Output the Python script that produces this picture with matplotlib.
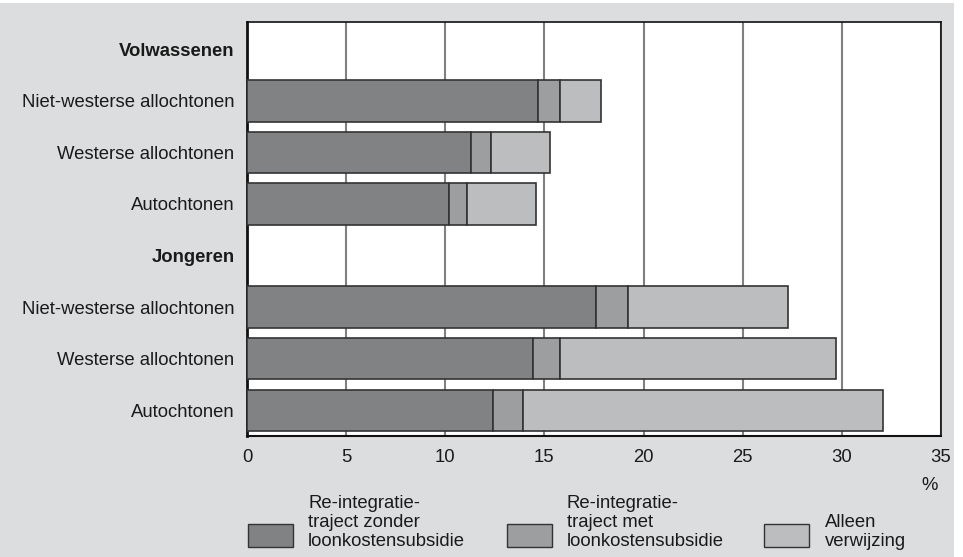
import matplotlib.pyplot as plt
from matplotlib.patches import Rectangle

plt.rcParams['font.family'] = ['Liberation Sans', 'DejaVu Sans']

# rows: group headers and categories (top to bottom)
row_labels = ["Volwassenen", "Niet-westerse allochtonen", "Westerse allochtonen", "Autochtonen",
              "Jongeren", "Niet-westerse allochtonen", "Westerse allochtonen", "Autochtonen"]
header_rows = [0, 4]
bar_rows = [1, 2, 3, 5, 6, 7]

zonder = [14.7, 11.3, 10.2, 17.6, 14.4, 12.4]
met = [1.1, 1.0, 0.9, 1.6, 1.4, 1.5]
verwijzing = [2.05, 3.0, 3.45, 8.1, 13.9, 18.2]

series_labels = ["Re-integratie-\ntraject zonder\nloonkostensubsidie",
                 "Re-integratie-\ntraject met\nloonkostensubsidie",
                 "Alleen\nverwijzing"]
colors = ["#818284", "#9d9ea0", "#bcbdbf"]
bg = "#dcdddf"
fs = 13.3

fig = plt.figure(figsize=(9.63, 5.57), dpi=100, facecolor=bg)
# white margins at top and right of the scanned panel
fig.patches.append(Rectangle((0, 1 - 3 / 557), 1, 3 / 557, transform=fig.transFigure,
                             facecolor="white", edgecolor="none"))
fig.patches.append(Rectangle((954 / 963, 0), 9 / 963, 1, transform=fig.transFigure,
                             facecolor="white", edgecolor="none"))
ax = fig.add_axes([247 / 963, 1 - 436 / 557, (941 - 247) / 963, (436 - 22) / 557])
ax.set_facecolor("white")

left = [0] * len(bar_rows)
for vals, col in zip([zonder, met, verwijzing], colors):
    ax.barh(bar_rows, vals, left=left, height=0.8, color=col, edgecolor="#333333",
            linewidth=1.2, zorder=3)
    left = [l + v for l, v in zip(left, vals)]

ax.set_xlim(0, 35)
ax.set_ylim(7.5, -0.53)
ax.set_xticks(range(0, 36, 5))
ax.set_yticks(range(len(row_labels)))
ax.set_yticklabels(row_labels, fontsize=fs)
for i in header_rows:
    ax.get_yticklabels()[i].set_fontweight("bold")
ax.tick_params(axis="both", length=0, labelsize=fs, colors="#1a1a1a")
ax.tick_params(axis="y", pad=9)
ax.tick_params(axis="x", pad=9)
ax.grid(axis="x", color="#808080", linewidth=1.5, zorder=1)
for s in ["left", "bottom", "top", "right"]:
    ax.spines[s].set_color("#111111")
    ax.spines[s].set_linewidth(1.2)
ax.spines["left"].set_linewidth(2)
ax.spines["bottom"].set_linewidth(1.5)

fig.text(930 / 963, 1 - 485 / 557, "%", fontsize=fs, ha="center", va="center",
         color="#1a1a1a")

# legend
patch_x = [248, 507, 764]
text_x = [308, 567, 825]
for px, tx, col, lab in zip(patch_x, text_x, colors, series_labels):
    fig.patches.append(Rectangle((px / 963, 1 - 547 / 557), 45 / 963, 23 / 557,
                                 transform=fig.transFigure, facecolor=col,
                                 edgecolor="#333333", linewidth=1))
    fig.text(tx / 963, 1 - 550 / 557, lab, fontsize=fs, ha="left", va="bottom",
             linespacing=1.15, color="#1a1a1a")

fig.savefig("out.png", dpi=100, facecolor=bg)
